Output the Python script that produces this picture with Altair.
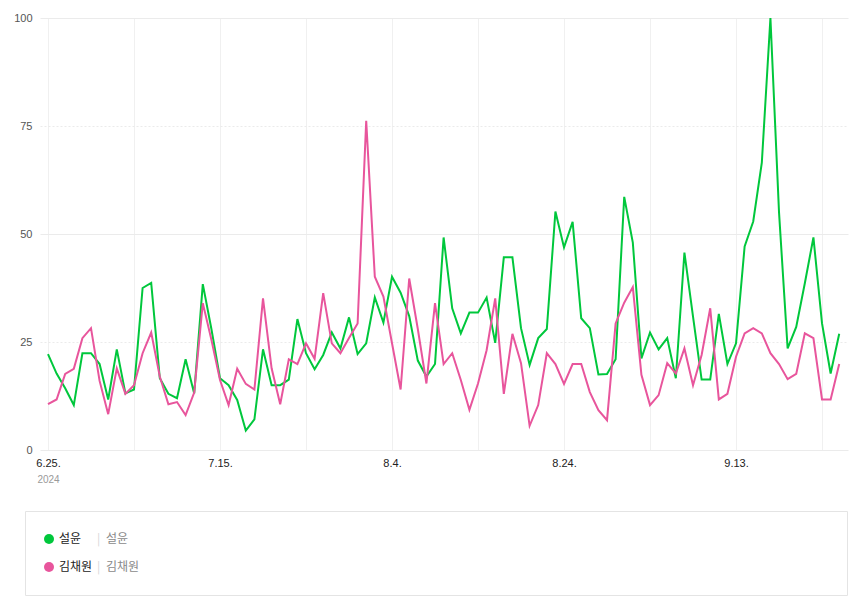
import json
import altair as alt
import pandas as pd

# ---- data ----
names = ["설윤", "김채원"]
colors = ["#00c73c", "#e8559c"]
tick_labels = ["6.25.", "7.15.", "8.4.", "8.24.", "9.13."]
year_label = "2024"

seolyoon = [22.2, 17.7, 14.3, 10.4, 22.4, 22.4, 19.9, 11.7, 23.3, 13.1,
            14.0, 37.5, 38.7, 16.6, 13.0, 12.0, 21.0, 13.1, 38.4, 28.0,
            16.6, 15.0, 11.6, 4.5, 7.1, 23.3, 15.0, 15.0, 16.3, 30.3,
            22.4, 18.7, 22.0, 27.2, 23.5, 30.7, 22.2, 24.7, 35.3, 29.5,
            40.1, 36.4, 31.0, 20.7, 17.0, 19.9, 49.2, 32.8, 27.0, 31.8,
            31.8, 35.3, 24.8, 44.6, 44.6, 28.2, 19.7, 25.9, 28.0, 55.2,
            46.9, 52.8, 30.5, 28.2, 17.5, 17.6, 21.0, 58.6, 48.0, 21.2,
            27.2, 23.3, 25.9, 16.6, 45.7, 30.9, 16.3, 16.3, 31.5, 19.9,
            24.7, 47.1, 52.9, 66.5, 100.0, 55.0, 23.5, 28.5, 38.6, 49.2,
            29.3, 17.7, 26.9]

kimchaewon = [10.6, 11.7, 17.6, 18.8, 25.9, 28.2, 16.0, 8.3, 18.9, 13.0,
              15.0, 22.4, 27.2, 17.0, 10.6, 11.1, 8.1, 13.3, 34.0, 25.5,
              16.2, 10.4, 18.8, 15.3, 14.0, 35.1, 18.9, 10.6, 21.0, 19.9,
              24.7, 21.1, 36.3, 24.7, 22.4, 25.9, 29.3, 76.2, 40.1, 35.5,
              24.7, 14.0, 39.7, 28.0, 15.4, 34.0, 19.9, 22.4, 16.2, 9.3,
              15.4, 23.1, 35.1, 13.0, 26.9, 20.1, 5.6, 10.4, 22.4, 19.9,
              15.3, 19.9, 19.9, 13.4, 9.2, 6.9, 29.3, 34.1, 37.7, 17.4,
              10.4, 12.7, 20.1, 17.7, 23.5, 15.0, 22.0, 32.8, 11.7, 13.0,
              21.6, 27.0, 28.2, 27.0, 22.4, 19.9, 16.4, 17.6, 27.0, 25.9,
              11.7, 11.7, 19.9]

n = len(seolyoon)
df = pd.DataFrame({
    "day": list(range(n)) * 2,
    "name": [names[0]] * n + [names[1]] * n,
    "value": seolyoon + kimchaewon,
})
df["dot_key"] = df["name"] + "_dot"
df["sep_key"] = df["name"] + "_sep"
df["alias_key"] = df["name"] + "_alias"

AXIS_FONT = "Liberation Sans"
KR_FONT = "Noto Sans CJK KR"

label_expr = (
    "datum.value % 20 == 0 ? " + json.dumps(tick_labels) + "[datum.value / 20] : ''"
)

x_enc = alt.X(
    "day:Q",
    scale=alt.Scale(domain=[-0.93, 93.02], nice=False, zero=False),
    axis=alt.Axis(
        values=list(range(0, n, 10)),
        labelExpr=label_expr,
        title=year_label,
        titleX=8, titleY=29, titleAlign="center", titleBaseline="middle",
        titleFontSize=10, titleColor="#9a9a9a", titleFontWeight="normal",
        titleFont=AXIS_FONT,
        domain=False, ticks=False, labelPadding=7,
        labelFontSize=11, labelColor="#222222", labelFont=AXIS_FONT,
        labelFlush=False, labelOverlap=False,
        gridColor="#f0f0f0", gridWidth=1,
    ),
)
y_enc = alt.Y(
    "value:Q",
    scale=alt.Scale(domain=[0, 100], nice=False),
    axis=alt.Axis(
        values=[0, 25, 50, 75, 100],
        title=None, domain=False, ticks=False, labelPadding=8,
        labelFontSize=11, labelColor="#555555", labelFont=AXIS_FONT,
        gridColor="#ebebeb", gridWidth=1,
        gridDash={"condition": {"test": "datum.value % 50 != 0", "value": [2, 2]},
                  "value": []},
    ),
)

lines = alt.Chart(df).mark_line(strokeWidth=2).encode(
    x=x_enc, y=y_enc,
    color=alt.Color("name:N", scale=alt.Scale(domain=names, range=colors), legend=None),
)

legend_rows = dict(orient="none", legendY=515, title=None, rowPadding=16,
                   padding=0, labelFontSize=12, labelFont=KR_FONT)

# legend A: coloured dots + names (fill channel of an invisible point layer)
legend_a = alt.Chart(df).mark_circle(opacity=0).encode(
    x=x_enc, y=y_enc,
    fill=alt.Fill("dot_key:N",
                  scale=alt.Scale(domain=[nm + "_dot" for nm in names], range=colors),
                  legend=alt.Legend(
                      legendX=3, symbolType="circle", symbolSize=100, symbolOpacity=1,
                      symbolStrokeWidth=0,
                      labelExpr="replace(datum.label, '_dot', '')",
                      labelColor="#222222", labelOffset=4, **legend_rows)),
)

# legend B: light separators
legend_b = alt.Chart(df).mark_point(opacity=0).encode(
    x=x_enc, y=y_enc,
    shape=alt.Shape("sep_key:N",
                    scale=alt.Scale(domain=[nm + "_sep" for nm in names],
                                    range=["circle", "circle"]),
                    legend=alt.Legend(legendX=45, symbolSize=0, symbolOpacity=0,
                                      labelOffset=0, labelColor="#d6d6d6",
                                      labelExpr="'|'", **legend_rows)),
)

# legend C: grey aliases
legend_c = alt.Chart(df).mark_point(opacity=0).encode(
    x=x_enc, y=y_enc,
    strokeDash=alt.StrokeDash("alias_key:N",
                              scale=alt.Scale(domain=[nm + "_alias" for nm in names],
                                              range=[[1, 0], [1, 0]]),
                              legend=alt.Legend(legendX=54, symbolSize=0, symbolOpacity=0,
                                                labelOffset=0, labelColor="#8a8a8a",
                                                labelExpr="replace(datum.label, '_alias', '')",
                                                **legend_rows)),
)

frame = alt.Chart(pd.DataFrame({"box": [0]})).mark_rect(
    fill="#ffffff", stroke="#e4e4e4", strokeWidth=1
).encode(
    x=alt.value(-14.5), x2=alt.value(807.5), y=alt.value(493.5), y2=alt.value(577.5)
)

chart = alt.layer(frame, lines, legend_a, legend_b, legend_c).properties(
    width=808, height=432,
    padding={"left": 40, "top": 18, "right": 2, "bottom": 149},
    autosize=alt.AutoSizeParams(type="none"),
    background="#ffffff",
).configure_view(strokeWidth=0)

chart.save("out.html", embed_options={"renderer": "svg", "actions": False})
